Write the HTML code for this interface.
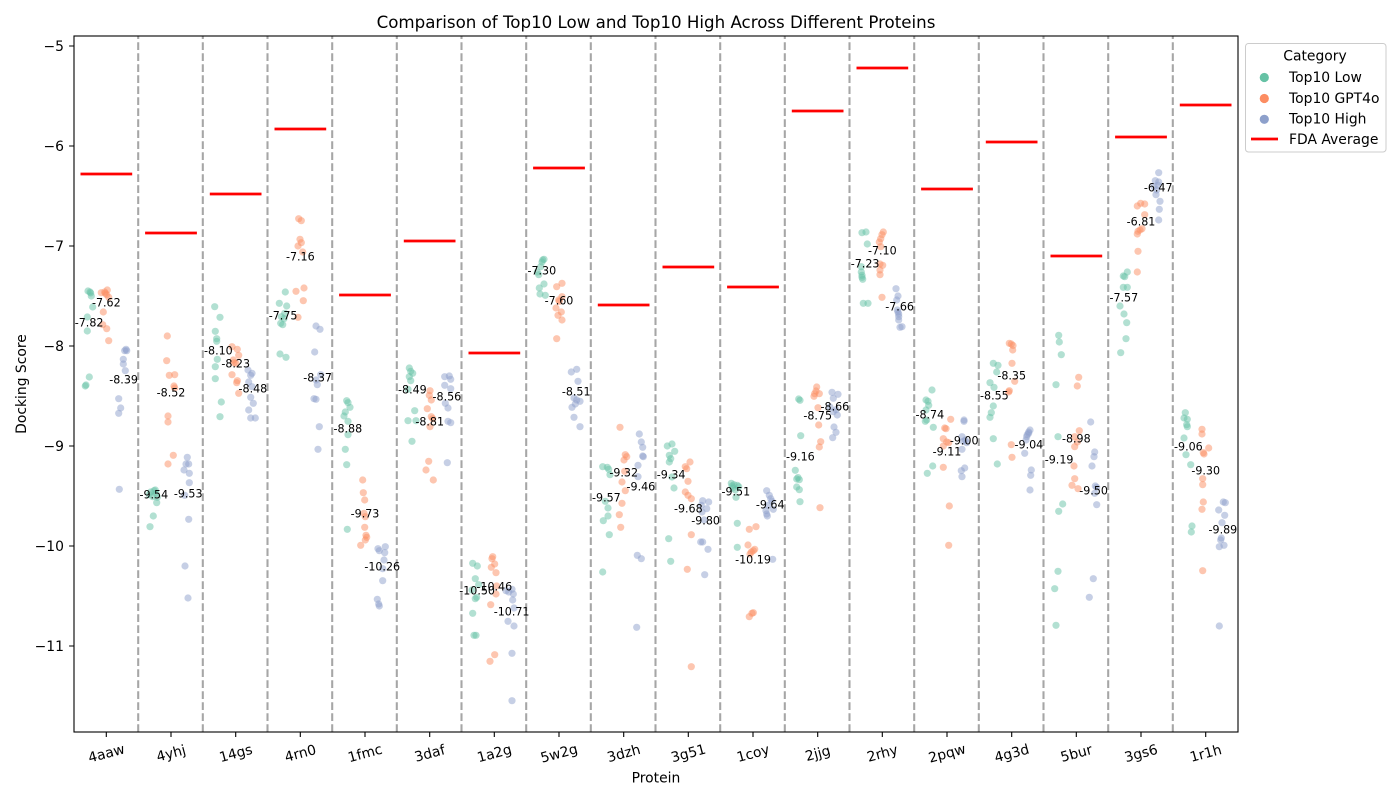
<!DOCTYPE html>
<html>
<head>
<meta charset="utf-8">
<style>
html,body{margin:0;padding:0;background:#fff;}
svg{display:block;font-family:"DejaVu Sans","Liberation Sans",sans-serif;}
</style>
</head>
<body>
<svg width="1400" height="800" viewBox="0 0 1400 800" xmlns="http://www.w3.org/2000/svg">
<rect x="0" y="0" width="1400" height="800" fill="#fff"/>
<text x="656" y="28" font-size="16.67" text-anchor="middle" fill="#000">Comparison of Top10 Low and Top10 High Across Different Proteins</text>

<!-- dashed separators -->
<g stroke="#a6a6a6" stroke-width="2.08" stroke-dasharray="7.7 3.3" fill="none">
<path d="M138.2 732V36M202.8 732V36M267.5 732V36M332.2 732V36M396.8 732V36M461.5 732V36M526.2 732V36M590.8 732V36M655.5 732V36M720.2 732V36M784.8 732V36M849.5 732V36M914.2 732V36M978.8 732V36M1043.5 732V36M1108.2 732V36M1172.8 732V36"/>
</g>

<!-- Top10 Low -->
<g fill="#66c2a5" fill-opacity="0.5">
<circle cx="88" cy="291" r="3.6"/><circle cx="90.7" cy="293" r="3.6"/><circle cx="91.3" cy="296" r="3.6"/><circle cx="92.7" cy="307" r="3.6"/><circle cx="87.3" cy="317" r="3.6"/><circle cx="87.3" cy="331" r="3.6"/><circle cx="89.3" cy="377" r="3.6"/><circle cx="85.3" cy="386" r="3.6"/><circle cx="86" cy="385" r="3.6"/><circle cx="90" cy="292" r="3.6"/>
<circle cx="150.7" cy="492" r="3.6"/><circle cx="154" cy="490.7" r="3.6"/><circle cx="156" cy="493.3" r="3.6"/><circle cx="152.7" cy="496.7" r="3.6"/><circle cx="156.7" cy="502.7" r="3.6"/><circle cx="153.3" cy="516" r="3.6"/><circle cx="150" cy="526.7" r="3.6"/><circle cx="155.3" cy="490" r="3.6"/><circle cx="149.3" cy="494.7" r="3.6"/><circle cx="157.3" cy="497.3" r="3.6"/>
<circle cx="214.7" cy="306.7" r="3.6"/><circle cx="220" cy="317.3" r="3.6"/><circle cx="215.3" cy="331.3" r="3.6"/><circle cx="216.7" cy="338.7" r="3.6"/><circle cx="216.7" cy="341.3" r="3.6"/><circle cx="217.3" cy="359.3" r="3.6"/><circle cx="215.3" cy="366.7" r="3.6"/><circle cx="215.3" cy="378.7" r="3.6"/><circle cx="221.3" cy="402" r="3.6"/><circle cx="220" cy="416.7" r="3.6"/>
<circle cx="285.3" cy="292" r="3.6"/><circle cx="279.3" cy="303.3" r="3.6"/><circle cx="286.7" cy="306" r="3.6"/><circle cx="284.7" cy="313.3" r="3.6"/><circle cx="281.3" cy="316.7" r="3.6"/><circle cx="282.7" cy="324.7" r="3.6"/><circle cx="280.7" cy="323.3" r="3.6"/><circle cx="280" cy="354" r="3.6"/><circle cx="286" cy="357.3" r="3.6"/><circle cx="284" cy="318.7" r="3.6"/>
<circle cx="346.7" cy="400.7" r="3.6"/><circle cx="348" cy="402.7" r="3.6"/><circle cx="350" cy="407.3" r="3.6"/><circle cx="345.3" cy="412" r="3.6"/><circle cx="344" cy="416" r="3.6"/><circle cx="348" cy="421.3" r="3.6"/><circle cx="348" cy="434.7" r="3.6"/><circle cx="345.3" cy="449.3" r="3.6"/><circle cx="346.7" cy="464.7" r="3.6"/><circle cx="347.3" cy="529.3" r="3.6"/>
<circle cx="409.3" cy="368" r="3.6"/><circle cx="410.7" cy="371.3" r="3.6"/><circle cx="412.7" cy="373.3" r="3.6"/><circle cx="409.3" cy="376.7" r="3.6"/><circle cx="410.7" cy="380.7" r="3.6"/><circle cx="408" cy="389.3" r="3.6"/><circle cx="414.7" cy="410.7" r="3.6"/><circle cx="408" cy="420.7" r="3.6"/><circle cx="416" cy="420.7" r="3.6"/><circle cx="412" cy="441.3" r="3.6"/>
<circle cx="472.7" cy="563.3" r="3.6"/><circle cx="477.3" cy="566" r="3.6"/><circle cx="475.3" cy="578.7" r="3.6"/><circle cx="478.7" cy="584.7" r="3.6"/><circle cx="475.3" cy="598.7" r="3.6"/><circle cx="476.7" cy="597.3" r="3.6"/><circle cx="472.7" cy="613.3" r="3.6"/><circle cx="474" cy="635.3" r="3.6"/><circle cx="476" cy="635.3" r="3.6"/><circle cx="472" cy="590" r="3.6"/>
<circle cx="544" cy="259.3" r="3.6"/><circle cx="542" cy="262" r="3.6"/><circle cx="540.7" cy="266.7" r="3.6"/><circle cx="537.3" cy="272" r="3.6"/><circle cx="538.7" cy="274.7" r="3.6"/><circle cx="544" cy="284" r="3.6"/><circle cx="539.3" cy="288" r="3.6"/><circle cx="540" cy="294" r="3.6"/><circle cx="545.3" cy="295.3" r="3.6"/><circle cx="542.7" cy="260" r="3.6"/>
<circle cx="602.7" cy="466.7" r="3.6"/><circle cx="607.3" cy="467.3" r="3.6"/><circle cx="608.7" cy="469.3" r="3.6"/><circle cx="610" cy="474.7" r="3.6"/><circle cx="605.3" cy="501.3" r="3.6"/><circle cx="608" cy="508" r="3.6"/><circle cx="608" cy="516" r="3.6"/><circle cx="603.3" cy="520.7" r="3.6"/><circle cx="609.3" cy="534.7" r="3.6"/><circle cx="602.7" cy="572" r="3.6"/>
<circle cx="667.3" cy="446" r="3.6"/><circle cx="672" cy="444" r="3.6"/><circle cx="674.7" cy="451.3" r="3.6"/><circle cx="669.3" cy="455.3" r="3.6"/><circle cx="670.7" cy="458.7" r="3.6"/><circle cx="672" cy="477" r="3.6"/><circle cx="674" cy="488" r="3.6"/><circle cx="668.7" cy="538.7" r="3.6"/><circle cx="670.7" cy="561.3" r="3.6"/><circle cx="669.3" cy="462" r="3.6"/>
<circle cx="731.3" cy="483.3" r="3.6"/><circle cx="734" cy="484.7" r="3.6"/><circle cx="737.3" cy="485.3" r="3.6"/><circle cx="738.7" cy="486.7" r="3.6"/><circle cx="732.7" cy="488" r="3.6"/><circle cx="735.3" cy="490" r="3.6"/><circle cx="736" cy="497.3" r="3.6"/><circle cx="737.3" cy="523.3" r="3.6"/><circle cx="737.3" cy="547.3" r="3.6"/><circle cx="732" cy="486" r="3.6"/>
<circle cx="798.7" cy="399" r="3.6"/><circle cx="800" cy="400.3" r="3.6"/><circle cx="800.7" cy="435.7" r="3.6"/><circle cx="795.3" cy="470.3" r="3.6"/><circle cx="796.7" cy="479" r="3.6"/><circle cx="799.3" cy="479.7" r="3.6"/><circle cx="796.7" cy="487" r="3.6"/><circle cx="799.3" cy="489.7" r="3.6"/><circle cx="800" cy="501.7" r="3.6"/><circle cx="798" cy="477.6" r="3.6"/>
<circle cx="862" cy="232.7" r="3.6"/><circle cx="866" cy="232" r="3.6"/><circle cx="867.3" cy="244" r="3.6"/><circle cx="861.3" cy="266.7" r="3.6"/><circle cx="861.3" cy="272" r="3.6"/><circle cx="862" cy="275.3" r="3.6"/><circle cx="862.7" cy="279.3" r="3.6"/><circle cx="863.3" cy="303.3" r="3.6"/><circle cx="868" cy="303.3" r="3.6"/><circle cx="862" cy="277.3" r="3.6"/>
<circle cx="932" cy="390" r="3.6"/><circle cx="926" cy="400" r="3.6"/><circle cx="928" cy="401.3" r="3.6"/><circle cx="928.7" cy="405.3" r="3.6"/><circle cx="926" cy="410" r="3.6"/><circle cx="926.7" cy="420" r="3.6"/><circle cx="925.3" cy="421.3" r="3.6"/><circle cx="933.3" cy="427.3" r="3.6"/><circle cx="932.7" cy="466" r="3.6"/><circle cx="927.3" cy="473.3" r="3.6"/>
<circle cx="993.3" cy="363.3" r="3.6"/><circle cx="998" cy="365.3" r="3.6"/><circle cx="996.7" cy="372" r="3.6"/><circle cx="990" cy="382.7" r="3.6"/><circle cx="994" cy="387.3" r="3.6"/><circle cx="993.3" cy="406" r="3.6"/><circle cx="991.3" cy="412.7" r="3.6"/><circle cx="990" cy="417.3" r="3.6"/><circle cx="993.3" cy="438.7" r="3.6"/><circle cx="997.3" cy="464" r="3.6"/>
<circle cx="1058.7" cy="335.3" r="3.6"/><circle cx="1059.3" cy="342" r="3.6"/><circle cx="1061.3" cy="354.7" r="3.6"/><circle cx="1056" cy="384.7" r="3.6"/><circle cx="1058" cy="436.7" r="3.6"/><circle cx="1062.7" cy="504" r="3.6"/><circle cx="1058.7" cy="511.3" r="3.6"/><circle cx="1058" cy="571.3" r="3.6"/><circle cx="1054.7" cy="588.7" r="3.6"/><circle cx="1056" cy="625.3" r="3.6"/>
<circle cx="1127.3" cy="272" r="3.6"/><circle cx="1123.3" cy="276" r="3.6"/><circle cx="1124.7" cy="276.7" r="3.6"/><circle cx="1123.3" cy="287.3" r="3.6"/><circle cx="1127.3" cy="287.3" r="3.6"/><circle cx="1120" cy="306" r="3.6"/><circle cx="1124" cy="314" r="3.6"/><circle cx="1126.7" cy="322.7" r="3.6"/><circle cx="1126" cy="338.7" r="3.6"/><circle cx="1120.7" cy="352.7" r="3.6"/>
<circle cx="1185.3" cy="412.7" r="3.6"/><circle cx="1184" cy="418" r="3.6"/><circle cx="1187.3" cy="419.3" r="3.6"/><circle cx="1186.7" cy="424.7" r="3.6"/><circle cx="1187.3" cy="426.7" r="3.6"/><circle cx="1184" cy="438" r="3.6"/><circle cx="1186" cy="454.7" r="3.6"/><circle cx="1190.7" cy="464.7" r="3.6"/><circle cx="1192" cy="526" r="3.6"/><circle cx="1191.3" cy="532" r="3.6"/>
</g>

<!-- Top10 GPT4o -->
<g fill="#fc8d62" fill-opacity="0.5">
<circle cx="101.3" cy="292.7" r="3.6"/><circle cx="104.7" cy="292" r="3.6"/><circle cx="107.3" cy="290" r="3.6"/><circle cx="106.7" cy="294.7" r="3.6"/><circle cx="108.7" cy="297.3" r="3.6"/><circle cx="103.3" cy="312" r="3.6"/><circle cx="102.7" cy="324.7" r="3.6"/><circle cx="106.7" cy="328.7" r="3.6"/><circle cx="108.7" cy="340.7" r="3.6"/><circle cx="105.3" cy="293.3" r="3.6"/>
<circle cx="167.3" cy="336" r="3.6"/><circle cx="166.7" cy="360.7" r="3.6"/><circle cx="169.3" cy="375.3" r="3.6"/><circle cx="174.7" cy="374.7" r="3.6"/><circle cx="174" cy="386" r="3.6"/><circle cx="174.7" cy="388" r="3.6"/><circle cx="168" cy="416" r="3.6"/><circle cx="168" cy="422" r="3.6"/><circle cx="173.3" cy="455.3" r="3.6"/><circle cx="168" cy="464" r="3.6"/>
<circle cx="232" cy="346.7" r="3.6"/><circle cx="237.3" cy="349.3" r="3.6"/><circle cx="238.7" cy="355.3" r="3.6"/><circle cx="233.3" cy="360" r="3.6"/><circle cx="236" cy="363.3" r="3.6"/><circle cx="232" cy="374.7" r="3.6"/><circle cx="237.3" cy="380.7" r="3.6"/><circle cx="236.7" cy="382.7" r="3.6"/><circle cx="238.7" cy="393.3" r="3.6"/><circle cx="234" cy="362.7" r="3.6"/>
<circle cx="298.7" cy="218.7" r="3.6"/><circle cx="301.3" cy="220.7" r="3.6"/><circle cx="300" cy="239.3" r="3.6"/><circle cx="301.3" cy="242.7" r="3.6"/><circle cx="298" cy="246" r="3.6"/><circle cx="302.7" cy="252" r="3.6"/><circle cx="296" cy="291.3" r="3.6"/><circle cx="304" cy="288" r="3.6"/><circle cx="303.3" cy="300.7" r="3.6"/><circle cx="298" cy="317.3" r="3.6"/>
<circle cx="362.7" cy="480" r="3.6"/><circle cx="363.3" cy="492.7" r="3.6"/><circle cx="364.7" cy="500" r="3.6"/><circle cx="365.3" cy="516.7" r="3.6"/><circle cx="364.7" cy="527.3" r="3.6"/><circle cx="366" cy="535.3" r="3.6"/><circle cx="365.3" cy="540" r="3.6"/><circle cx="366.7" cy="537.3" r="3.6"/><circle cx="360.7" cy="545.3" r="3.6"/><circle cx="364" cy="513.3" r="3.6"/>
<circle cx="430" cy="390.7" r="3.6"/><circle cx="429.3" cy="395.3" r="3.6"/><circle cx="431.3" cy="400" r="3.6"/><circle cx="427.3" cy="408.7" r="3.6"/><circle cx="431.3" cy="416.7" r="3.6"/><circle cx="432.7" cy="418.7" r="3.6"/><circle cx="430" cy="426.7" r="3.6"/><circle cx="428.7" cy="461.3" r="3.6"/><circle cx="426" cy="470" r="3.6"/><circle cx="433.3" cy="480" r="3.6"/>
<circle cx="492.7" cy="556.7" r="3.6"/><circle cx="492" cy="558.7" r="3.6"/><circle cx="494.7" cy="564" r="3.6"/><circle cx="491.3" cy="567.3" r="3.6"/><circle cx="496" cy="572.7" r="3.6"/><circle cx="496.7" cy="586" r="3.6"/><circle cx="496" cy="594" r="3.6"/><circle cx="490.7" cy="604.7" r="3.6"/><circle cx="494.7" cy="654.7" r="3.6"/><circle cx="490" cy="661.3" r="3.6"/>
<circle cx="556.7" cy="286.7" r="3.6"/><circle cx="562" cy="283.3" r="3.6"/><circle cx="562" cy="296.7" r="3.6"/><circle cx="558.7" cy="300" r="3.6"/><circle cx="556" cy="308" r="3.6"/><circle cx="561.3" cy="312" r="3.6"/><circle cx="558" cy="315.3" r="3.6"/><circle cx="562" cy="320" r="3.6"/><circle cx="556.7" cy="338.7" r="3.6"/><circle cx="559.3" cy="301.3" r="3.6"/>
<circle cx="620" cy="427.3" r="3.6"/><circle cx="625.3" cy="454.7" r="3.6"/><circle cx="626.7" cy="456.7" r="3.6"/><circle cx="624.7" cy="471.3" r="3.6"/><circle cx="622" cy="482" r="3.6"/><circle cx="625.3" cy="490.7" r="3.6"/><circle cx="622" cy="503.3" r="3.6"/><circle cx="619.3" cy="514.7" r="3.6"/><circle cx="620.7" cy="527.3" r="3.6"/><circle cx="624" cy="460" r="3.6"/>
<circle cx="690" cy="462" r="3.6"/><circle cx="685.3" cy="466.7" r="3.6"/><circle cx="686.7" cy="468.7" r="3.6"/><circle cx="688" cy="481.3" r="3.6"/><circle cx="685.3" cy="492" r="3.6"/><circle cx="688" cy="495.3" r="3.6"/><circle cx="691.3" cy="498.7" r="3.6"/><circle cx="691.3" cy="534.7" r="3.6"/><circle cx="687.3" cy="569.3" r="3.6"/><circle cx="691.3" cy="666.7" r="3.6"/>
<circle cx="749.3" cy="529.3" r="3.6"/><circle cx="756" cy="526.7" r="3.6"/><circle cx="754.7" cy="549.3" r="3.6"/><circle cx="751.3" cy="552" r="3.6"/><circle cx="753.3" cy="550.7" r="3.6"/><circle cx="750" cy="554" r="3.6"/><circle cx="753.3" cy="612.7" r="3.6"/><circle cx="749.3" cy="616.7" r="3.6"/><circle cx="752" cy="613.3" r="3.6"/><circle cx="748" cy="545" r="3.6"/>
<circle cx="816.7" cy="387" r="3.6"/><circle cx="814.7" cy="393.7" r="3.6"/><circle cx="819.3" cy="393.7" r="3.6"/><circle cx="814" cy="396.3" r="3.6"/><circle cx="818" cy="407.7" r="3.6"/><circle cx="818.7" cy="425" r="3.6"/><circle cx="820.7" cy="441.7" r="3.6"/><circle cx="819.3" cy="447" r="3.6"/><circle cx="820" cy="507.7" r="3.6"/><circle cx="816" cy="391" r="3.6"/>
<circle cx="883.3" cy="232" r="3.6"/><circle cx="882" cy="234.7" r="3.6"/><circle cx="880.7" cy="238.7" r="3.6"/><circle cx="879.3" cy="242" r="3.6"/><circle cx="880.7" cy="246.7" r="3.6"/><circle cx="880" cy="264" r="3.6"/><circle cx="882.7" cy="265.3" r="3.6"/><circle cx="880" cy="270" r="3.6"/><circle cx="880" cy="274.7" r="3.6"/><circle cx="882" cy="297.3" r="3.6"/>
<circle cx="950.7" cy="419.3" r="3.6"/><circle cx="944.7" cy="428" r="3.6"/><circle cx="946" cy="428.7" r="3.6"/><circle cx="943.3" cy="438.7" r="3.6"/><circle cx="946.7" cy="442" r="3.6"/><circle cx="948.7" cy="442.7" r="3.6"/><circle cx="943.3" cy="446" r="3.6"/><circle cx="943.3" cy="467.3" r="3.6"/><circle cx="949.3" cy="506" r="3.6"/><circle cx="948.7" cy="545.3" r="3.6"/>
<circle cx="1009.3" cy="343.3" r="3.6"/><circle cx="1011.3" cy="344" r="3.6"/><circle cx="1012.7" cy="350" r="3.6"/><circle cx="1012" cy="363.3" r="3.6"/><circle cx="1014.7" cy="381.3" r="3.6"/><circle cx="1009.3" cy="390.7" r="3.6"/><circle cx="1013" cy="345.5" r="3.6"/><circle cx="1011.3" cy="444.7" r="3.6"/><circle cx="1012" cy="457.3" r="3.6"/><circle cx="1008.7" cy="392" r="3.6"/>
<circle cx="1078.7" cy="377.3" r="3.6"/><circle cx="1077.3" cy="386" r="3.6"/><circle cx="1079.3" cy="430.7" r="3.6"/><circle cx="1074.7" cy="436.7" r="3.6"/><circle cx="1077.3" cy="442" r="3.6"/><circle cx="1074.7" cy="446.7" r="3.6"/><circle cx="1074" cy="466" r="3.6"/><circle cx="1074.7" cy="478.7" r="3.6"/><circle cx="1072" cy="485.3" r="3.6"/><circle cx="1078" cy="488.7" r="3.6"/>
<circle cx="1137.3" cy="206" r="3.6"/><circle cx="1140.7" cy="203.3" r="3.6"/><circle cx="1144.7" cy="204" r="3.6"/><circle cx="1144.7" cy="214.7" r="3.6"/><circle cx="1142" cy="228.7" r="3.6"/><circle cx="1140" cy="230" r="3.6"/><circle cx="1138" cy="231.3" r="3.6"/><circle cx="1137.3" cy="234" r="3.6"/><circle cx="1138" cy="251.3" r="3.6"/><circle cx="1137.3" cy="272" r="3.6"/>
<circle cx="1202" cy="429.3" r="3.6"/><circle cx="1202" cy="434" r="3.6"/><circle cx="1208.7" cy="448" r="3.6"/><circle cx="1203.3" cy="452.7" r="3.6"/><circle cx="1204" cy="454" r="3.6"/><circle cx="1202.7" cy="478.7" r="3.6"/><circle cx="1202.7" cy="484.7" r="3.6"/><circle cx="1203.3" cy="502" r="3.6"/><circle cx="1202" cy="509.3" r="3.6"/><circle cx="1202.7" cy="570.7" r="3.6"/>
</g>

<!-- Top10 High -->
<g fill="#8da0cb" fill-opacity="0.5">
<circle cx="124.7" cy="350.7" r="3.6"/><circle cx="126.7" cy="350.7" r="3.6"/><circle cx="123.3" cy="359.3" r="3.6"/><circle cx="123.3" cy="364" r="3.6"/><circle cx="125.3" cy="370.7" r="3.6"/><circle cx="118.7" cy="398.7" r="3.6"/><circle cx="120.7" cy="408" r="3.6"/><circle cx="118.7" cy="413.3" r="3.6"/><circle cx="119.3" cy="489.3" r="3.6"/><circle cx="126" cy="349.3" r="3.6"/>
<circle cx="187.3" cy="457.3" r="3.6"/><circle cx="188.7" cy="464" r="3.6"/><circle cx="184" cy="470" r="3.6"/><circle cx="189.3" cy="473.3" r="3.6"/><circle cx="189.3" cy="482.7" r="3.6"/><circle cx="184.7" cy="495.3" r="3.6"/><circle cx="188.7" cy="519.3" r="3.6"/><circle cx="185" cy="566" r="3.6"/><circle cx="188" cy="598" r="3.6"/><circle cx="186" cy="464" r="3.6"/>
<circle cx="248" cy="370" r="3.6"/><circle cx="252" cy="373.3" r="3.6"/><circle cx="250.7" cy="375.3" r="3.6"/><circle cx="248.7" cy="382" r="3.6"/><circle cx="252" cy="386.7" r="3.6"/><circle cx="250.7" cy="397.3" r="3.6"/><circle cx="253.3" cy="403.3" r="3.6"/><circle cx="248.7" cy="410" r="3.6"/><circle cx="250.7" cy="418" r="3.6"/><circle cx="255.3" cy="418" r="3.6"/>
<circle cx="316" cy="326" r="3.6"/><circle cx="320" cy="329.3" r="3.6"/><circle cx="314.7" cy="352" r="3.6"/><circle cx="316" cy="380" r="3.6"/><circle cx="317.3" cy="384.7" r="3.6"/><circle cx="320.7" cy="374.7" r="3.6"/><circle cx="314" cy="398.7" r="3.6"/><circle cx="316" cy="399.3" r="3.6"/><circle cx="319.3" cy="426.7" r="3.6"/><circle cx="318" cy="449.3" r="3.6"/>
<circle cx="378" cy="548.7" r="3.6"/><circle cx="385.3" cy="546.7" r="3.6"/><circle cx="379.3" cy="550.7" r="3.6"/><circle cx="384.7" cy="552.7" r="3.6"/><circle cx="384" cy="560" r="3.6"/><circle cx="382.7" cy="568.7" r="3.6"/><circle cx="382.7" cy="580.7" r="3.6"/><circle cx="377.3" cy="599.3" r="3.6"/><circle cx="378.7" cy="604" r="3.6"/><circle cx="379.3" cy="606" r="3.6"/>
<circle cx="444.7" cy="376.7" r="3.6"/><circle cx="449.3" cy="376" r="3.6"/><circle cx="450.7" cy="379.3" r="3.6"/><circle cx="444.7" cy="385.3" r="3.6"/><circle cx="450.7" cy="388.7" r="3.6"/><circle cx="445.3" cy="403.3" r="3.6"/><circle cx="448" cy="408" r="3.6"/><circle cx="448" cy="421.3" r="3.6"/><circle cx="450.7" cy="422.7" r="3.6"/><circle cx="447.3" cy="462.7" r="3.6"/>
<circle cx="506" cy="590.7" r="3.6"/><circle cx="512" cy="589.3" r="3.6"/><circle cx="513.3" cy="594" r="3.6"/><circle cx="512.7" cy="600" r="3.6"/><circle cx="514" cy="608" r="3.6"/><circle cx="508" cy="621.3" r="3.6"/><circle cx="514" cy="626" r="3.6"/><circle cx="512" cy="653.3" r="3.6"/><circle cx="512" cy="700.7" r="3.6"/><circle cx="508.7" cy="592" r="3.6"/>
<circle cx="571.3" cy="372" r="3.6"/><circle cx="576.7" cy="369.3" r="3.6"/><circle cx="578" cy="381.3" r="3.6"/><circle cx="574" cy="398" r="3.6"/><circle cx="576.7" cy="400" r="3.6"/><circle cx="580" cy="401.3" r="3.6"/><circle cx="575.3" cy="404" r="3.6"/><circle cx="572" cy="407.3" r="3.6"/><circle cx="574" cy="417.3" r="3.6"/><circle cx="580" cy="426.7" r="3.6"/>
<circle cx="639.3" cy="434" r="3.6"/><circle cx="641.3" cy="442" r="3.6"/><circle cx="642.7" cy="447.3" r="3.6"/><circle cx="642.7" cy="456" r="3.6"/><circle cx="643.3" cy="456.7" r="3.6"/><circle cx="638" cy="465.3" r="3.6"/><circle cx="638" cy="476.7" r="3.6"/><circle cx="637.3" cy="555.3" r="3.6"/><circle cx="641.3" cy="558.7" r="3.6"/><circle cx="636.7" cy="627.3" r="3.6"/>
<circle cx="702.7" cy="500.7" r="3.6"/><circle cx="708.7" cy="502" r="3.6"/><circle cx="701.3" cy="505.3" r="3.6"/><circle cx="706.7" cy="508.7" r="3.6"/><circle cx="702" cy="512" r="3.6"/><circle cx="704" cy="520" r="3.6"/><circle cx="702.7" cy="542" r="3.6"/><circle cx="708" cy="549.3" r="3.6"/><circle cx="704.7" cy="574.7" r="3.6"/><circle cx="700.7" cy="542" r="3.6"/>
<circle cx="766.7" cy="490.7" r="3.6"/><circle cx="769.3" cy="495.3" r="3.6"/><circle cx="770.7" cy="498.7" r="3.6"/><circle cx="772" cy="501.3" r="3.6"/><circle cx="768" cy="505.3" r="3.6"/><circle cx="773.3" cy="509.3" r="3.6"/><circle cx="766" cy="510.7" r="3.6"/><circle cx="767.3" cy="516" r="3.6"/><circle cx="766.7" cy="514" r="3.6"/><circle cx="772.7" cy="559.3" r="3.6"/>
<circle cx="832" cy="392.3" r="3.6"/><circle cx="838" cy="394.3" r="3.6"/><circle cx="833.3" cy="398.3" r="3.6"/><circle cx="836" cy="409.7" r="3.6"/><circle cx="837.3" cy="415" r="3.6"/><circle cx="834" cy="427" r="3.6"/><circle cx="836" cy="432.3" r="3.6"/><circle cx="832.7" cy="437.7" r="3.6"/><circle cx="830" cy="407" r="3.6"/><circle cx="833.3" cy="411.7" r="3.6"/>
<circle cx="896" cy="288.7" r="3.6"/><circle cx="898" cy="296" r="3.6"/><circle cx="896.7" cy="300" r="3.6"/><circle cx="897.3" cy="310" r="3.6"/><circle cx="898.7" cy="314" r="3.6"/><circle cx="898.7" cy="316.7" r="3.6"/><circle cx="898.7" cy="320" r="3.6"/><circle cx="900" cy="327.3" r="3.6"/><circle cx="902" cy="326.7" r="3.6"/><circle cx="898" cy="312" r="3.6"/>
<circle cx="964" cy="420" r="3.6"/><circle cx="962" cy="436.7" r="3.6"/><circle cx="965.3" cy="440" r="3.6"/><circle cx="966.7" cy="442.7" r="3.6"/><circle cx="962" cy="449.3" r="3.6"/><circle cx="964.7" cy="468" r="3.6"/><circle cx="961.3" cy="470.7" r="3.6"/><circle cx="962" cy="476.7" r="3.6"/><circle cx="963.3" cy="441.3" r="3.6"/><circle cx="964" cy="421.3" r="3.6"/>
<circle cx="1030" cy="430" r="3.6"/><circle cx="1028.7" cy="432" r="3.6"/><circle cx="1027.3" cy="434.7" r="3.6"/><circle cx="1026.7" cy="436.7" r="3.6"/><circle cx="1026" cy="440" r="3.6"/><circle cx="1024.7" cy="453.3" r="3.6"/><circle cx="1031.3" cy="470" r="3.6"/><circle cx="1030.7" cy="475.3" r="3.6"/><circle cx="1030" cy="490" r="3.6"/><circle cx="1028.7" cy="433.3" r="3.6"/>
<circle cx="1090.7" cy="422" r="3.6"/><circle cx="1094.7" cy="452" r="3.6"/><circle cx="1094" cy="456.7" r="3.6"/><circle cx="1092" cy="466" r="3.6"/><circle cx="1095.3" cy="486" r="3.6"/><circle cx="1096.7" cy="487.3" r="3.6"/><circle cx="1094.7" cy="493.3" r="3.6"/><circle cx="1096.7" cy="504.7" r="3.6"/><circle cx="1093.3" cy="578.7" r="3.6"/><circle cx="1089.3" cy="597.3" r="3.6"/>
<circle cx="1158.7" cy="172.7" r="3.6"/><circle cx="1155.3" cy="180.7" r="3.6"/><circle cx="1158.7" cy="182" r="3.6"/><circle cx="1154" cy="186.7" r="3.6"/><circle cx="1156" cy="194.7" r="3.6"/><circle cx="1160" cy="201.3" r="3.6"/><circle cx="1159.3" cy="209.3" r="3.6"/><circle cx="1158.7" cy="220" r="3.6"/><circle cx="1156.7" cy="190" r="3.6"/><circle cx="1158" cy="185.3" r="3.6"/>
<circle cx="1223.3" cy="502" r="3.6"/><circle cx="1225.3" cy="502.7" r="3.6"/><circle cx="1218.7" cy="510" r="3.6"/><circle cx="1224.7" cy="515.3" r="3.6"/><circle cx="1222" cy="522.7" r="3.6"/><circle cx="1221.3" cy="538" r="3.6"/><circle cx="1219.3" cy="546.7" r="3.6"/><circle cx="1224" cy="545.3" r="3.6"/><circle cx="1219.3" cy="626" r="3.6"/><circle cx="1220.7" cy="540" r="3.6"/>
</g>

<!-- FDA average lines -->
<g stroke="#ff0000" stroke-width="2.78" fill="none">
<path d="M80.5 174H132.2M145.1 233H196.9M209.8 194H261.5M274.5 129H326.2M339.1 295H390.9M403.8 241H455.5M468.5 353H520.2M533.1 168H584.9M597.8 305H649.5M662.5 267H714.2M727.1 287H778.9M791.8 111H843.5M856.5 68H908.2M921.1 189H972.9M985.8 142H1037.5M1050.5 256H1102.2M1115.1 137H1166.9M1179.8 105H1231.5"/>
</g>

<!-- mean labels -->
<g font-size="11.1" fill="#000" text-anchor="middle">
<text x="89.1" y="326.5">-7.82</text><text x="106.3" y="306.5">-7.62</text><text x="123.6" y="383.5">-8.39</text>
<text x="153.8" y="498.5">-9.54</text><text x="171" y="396.5">-8.52</text><text x="188.2" y="497.5">-9.53</text>
<text x="218.4" y="354.5">-8.10</text><text x="235.7" y="367.5">-8.23</text><text x="252.9" y="392.5">-8.48</text>
<text x="283.1" y="319.5">-7.75</text><text x="300.3" y="260.5">-7.16</text><text x="317.6" y="381.5">-8.37</text>
<text x="347.8" y="432.5">-8.88</text><text x="365" y="517.5">-9.73</text><text x="382.2" y="570.5">-10.26</text>
<text x="412.4" y="393.5">-8.49</text><text x="429.7" y="425.5">-8.81</text><text x="446.9" y="400.5">-8.56</text>
<text x="477.1" y="594.5">-10.50</text><text x="494.3" y="590.5">-10.46</text><text x="511.6" y="615.5">-10.71</text>
<text x="541.8" y="274.5">-7.30</text><text x="559" y="304.5">-7.60</text><text x="576.2" y="395.5">-8.51</text>
<text x="606.4" y="501.5">-9.57</text><text x="623.7" y="476.5">-9.32</text><text x="640.9" y="490.5">-9.46</text>
<text x="671.1" y="478.5">-9.34</text><text x="688.3" y="512.5">-9.68</text><text x="705.6" y="524.5">-9.80</text>
<text x="735.8" y="495.5">-9.51</text><text x="753" y="563.5">-10.19</text><text x="770.2" y="508.5">-9.64</text>
<text x="800.4" y="460.5">-9.16</text><text x="817.7" y="419.5">-8.75</text><text x="834.9" y="410.5">-8.66</text>
<text x="865.1" y="267.5">-7.23</text><text x="882.3" y="254.5">-7.10</text><text x="899.6" y="310.5">-7.66</text>
<text x="929.8" y="418.5">-8.74</text><text x="947" y="455.5">-9.11</text><text x="964.2" y="444.5">-9.00</text>
<text x="994.4" y="399.5">-8.55</text><text x="1011.7" y="379.5">-8.35</text><text x="1028.9" y="448.5">-9.04</text>
<text x="1059.1" y="463.5">-9.19</text><text x="1076.3" y="442.5">-8.98</text><text x="1093.6" y="494.5">-9.50</text>
<text x="1123.8" y="301.5">-7.57</text><text x="1141" y="225.5">-6.81</text><text x="1158.2" y="191.5">-6.47</text>
<text x="1188.4" y="450.5">-9.06</text><text x="1205.7" y="474.5">-9.30</text><text x="1222.9" y="533.5">-9.89</text>
</g>

<!-- axes frame -->
<rect x="74" y="36" width="1164" height="696" fill="none" stroke="#000" stroke-width="1.1"/>

<!-- y ticks -->
<g stroke="#000" stroke-width="1.1">
<path d="M69.1 46H74M69.1 146H74M69.1 246H74M69.1 346H74M69.1 446H74M69.1 546H74M69.1 646H74"/>
</g>
<g font-size="13.9" fill="#000" text-anchor="end">
<text x="64" y="51">−5</text>
<text x="64" y="151">−6</text>
<text x="64" y="251">−7</text>
<text x="64" y="351">−8</text>
<text x="64" y="451">−9</text>
<text x="64" y="551">−10</text>
<text x="64" y="651">−11</text>
</g>
<text x="26" y="384" font-size="13.9" text-anchor="middle" transform="rotate(-90 26 384)">Docking Score</text>

<!-- x ticks -->
<g stroke="#000" stroke-width="1.1">
<path d="M106.3 732V737M171 732V737M235.7 732V737M300.3 732V737M365 732V737M429.7 732V737M494.3 732V737M559 732V737M623.7 732V737M688.3 732V737M753 732V737M817.7 732V737M882.3 732V737M947 732V737M1011.7 732V737M1076.3 732V737M1141 732V737M1205.7 732V737"/>
</g>
<g font-size="13.9" fill="#000" text-anchor="middle">
<text x="106.3" y="758" transform="rotate(-15 106.3 753)">4aaw</text>
<text x="171" y="758" transform="rotate(-15 171 753)">4yhj</text>
<text x="235.7" y="758" transform="rotate(-15 235.7 753)">14gs</text>
<text x="300.3" y="758" transform="rotate(-15 300.3 753)">4rn0</text>
<text x="365" y="758" transform="rotate(-15 365 753)">1fmc</text>
<text x="429.7" y="758" transform="rotate(-15 429.7 753)">3daf</text>
<text x="494.3" y="758" transform="rotate(-15 494.3 753)">1a2g</text>
<text x="559" y="758" transform="rotate(-15 559 753)">5w2g</text>
<text x="623.7" y="758" transform="rotate(-15 623.7 753)">3dzh</text>
<text x="688.3" y="758" transform="rotate(-15 688.3 753)">3g51</text>
<text x="753" y="758" transform="rotate(-15 753 753)">1coy</text>
<text x="817.7" y="758" transform="rotate(-15 817.7 753)">2jjg</text>
<text x="882.3" y="758" transform="rotate(-15 882.3 753)">2rhy</text>
<text x="947" y="758" transform="rotate(-15 947 753)">2pqw</text>
<text x="1011.7" y="758" transform="rotate(-15 1011.7 753)">4g3d</text>
<text x="1076.3" y="758" transform="rotate(-15 1076.3 753)">5bur</text>
<text x="1141" y="758" transform="rotate(-15 1141 753)">3gs6</text>
<text x="1205.7" y="758" transform="rotate(-15 1205.7 753)">1r1h</text>
</g>
<text x="656" y="782.5" font-size="13.9" text-anchor="middle">Protein</text>

<!-- legend -->
<rect x="1245.5" y="43.5" width="140.5" height="108.5" rx="3" ry="3" fill="#fff" fill-opacity="0.8" stroke="#cccccc" stroke-width="1"/>
<text x="1315" y="60.5" font-size="13.9" text-anchor="middle">Category</text>
<circle cx="1264.3" cy="77.5" r="4.6" fill="#66c2a5"/>
<circle cx="1264.3" cy="98.5" r="4.6" fill="#fc8d62"/>
<circle cx="1264.3" cy="119.3" r="4.6" fill="#8da0cb"/>
<path d="M1251 139H1278" stroke="#ff0000" stroke-width="2.78"/>
<g font-size="13.9" fill="#000">
<text x="1289" y="82">Top10 Low</text>
<text x="1289" y="103">Top10 GPT4o</text>
<text x="1289" y="123.5">Top10 High</text>
<text x="1289" y="144">FDA Average</text>
</g>
</svg>
</body>
</html>
